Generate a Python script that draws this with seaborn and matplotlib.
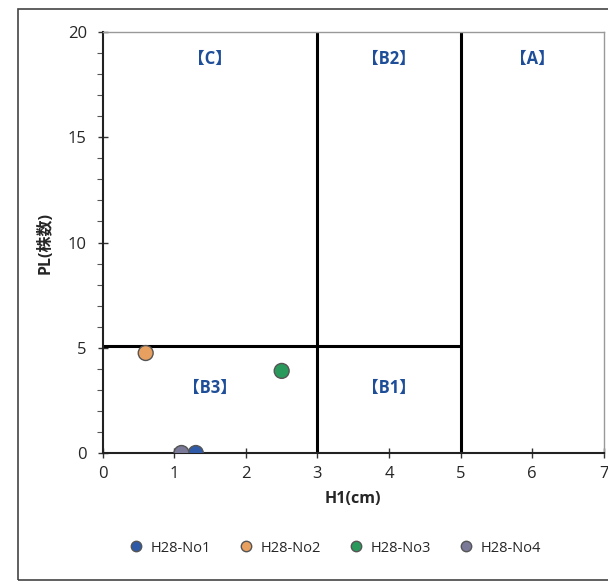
import numpy as np
import pandas as pd
import matplotlib.pyplot as plt
import seaborn as sns
from matplotlib.patches import Rectangle

# data
samples = ['H28-No1', 'H28-No2', 'H28-No3', 'H28-No4']
h1_cm = [1.3, 0.6, 2.5, 1.1]
pl_count = [0.0, 4.75, 3.9, 0.0]
colors = ['#2f5aa8', '#e8a060', '#2a9a5c', '#7a7a98']

# zone borders and labels
zone_labels = ['【C】', '【B2】', '【A】', '【B3】', '【B1】']
zone_x = [1.5, 4.0, 6.0, 1.5, 4.0]
zone_y = [18.7, 18.7, 18.7, 3.1, 3.1]

df = pd.DataFrame({'sample': samples, 'H1': h1_cm, 'PL': pl_count})

sns.set_style("white")
plt.rcParams['font.family'] = ['Open Sans', 'Noto Sans CJK JP', 'DejaVu Sans']

fig = plt.figure(figsize=(6.08, 5.83), dpi=100)
ax = fig.add_axes([0.169, 0.223, 0.824, 0.722])

# zone lines
ax.plot([3, 3], [0, 20], color='black', lw=2.2, zorder=2)
ax.plot([5, 5], [0, 20], color='black', lw=2.2, zorder=2)
ax.plot([0, 5], [5.1, 5.1], color='black', lw=2.2, zorder=2)

sns.scatterplot(data=df, x='H1', y='PL', hue='sample', palette=colors, s=115,
                edgecolor='#555555', linewidth=1, ax=ax, zorder=3, legend=False)

for lab, x, y in zip(zone_labels, zone_x, zone_y):
    ax.text(x, y, lab, color='#1f4e99', fontsize=12, fontweight='bold',
            ha='center', va='center')

ax.set_xlim(0, 7)
ax.set_ylim(0, 20)
ax.set_xticks(range(0, 8))
ax.set_yticks([0, 5, 10, 15, 20])
ax.set_yticks(range(0, 21), minor=True)
ax.tick_params(axis='both', which='major', direction='inout', length=7, width=1,
               labelsize=12, color='#333333', bottom=True, left=True)
ax.tick_params(axis='y', which='minor', direction='out', length=4, width=0.8,
               color='#555555', left=True)
ax.tick_params(axis='x', pad=6)
ax.tick_params(axis='y', pad=8)

for side in ['left', 'bottom']:
    ax.spines[side].set_color('#222222')
    ax.spines[side].set_linewidth(1.5)
for side in ['top', 'right']:
    ax.spines[side].set_color('#999999')
    ax.spines[side].set_linewidth(1.0)

ax.set_xlabel('H1(cm)', fontsize=11.5, fontweight='bold', labelpad=6)
ax.set_ylabel('PL(株数)', fontsize=11.5, fontweight='bold', labelpad=10)

# legend under the plot
handles = [plt.Line2D([], [], marker='o', ls='', markersize=7.5, markerfacecolor=c,
                      markeredgecolor='#555555') for c in colors]
fig.legend(handles, samples, loc='center', bbox_to_anchor=(0.545, 0.06), ncol=4,
           frameon=False, fontsize=10.5, handletextpad=0.0, columnspacing=1.4)

# outer frame
fig.add_artist(Rectangle((0.03, 0.005), 1.0, 0.98, transform=fig.transFigure,
                         fill=False, edgecolor='#444444', lw=1.2))

fig.savefig('out.png', dpi=100)
